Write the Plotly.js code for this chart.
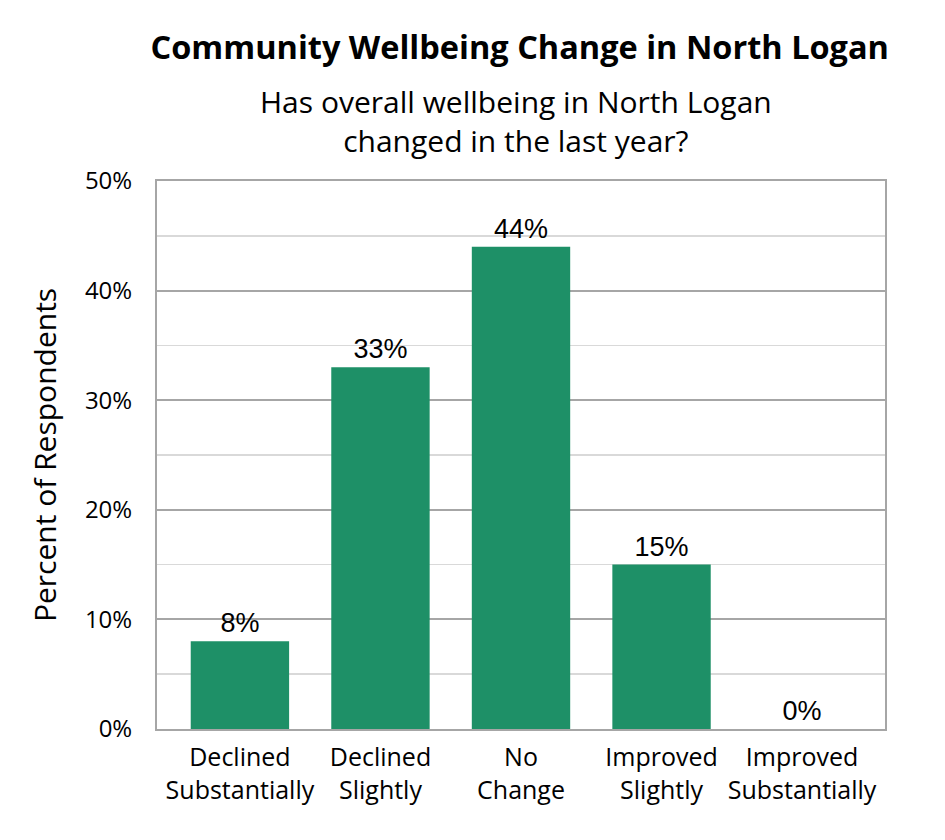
<!DOCTYPE html>
<html>
<head>
<meta charset="utf-8">
<script src="https://cdn.plot.ly/plotly-3.0.1.min.js"></script>
<style>html,body{margin:0;padding:0;background:#fff;}#chart{width:945px;height:840px;}</style>
</head>
<body>
<div id="chart"></div>
<script>
const categories = ["Declined<br>Substantially", "Declined<br>Slightly", "No<br>Change", "Improved<br>Slightly", "Improved<br>Substantially"];
const values = [8, 33, 44, 15, 0];
const valueLabels = ["8%", "33%", "44%", "15%", "0%"];
const yTickVals = [0, 10, 20, 30, 40, 50];
const yTickText = ["0%", "10%", "20%", "30%", "40%", "50%"];

const sans = "Open Sans, Lato, sans-serif";

const trace = {
  type: "bar",
  x: categories,
  y: values,
  text: valueLabels,
  textposition: "outside",
  cliponaxis: false,
  textfont: {family: "Liberation Sans, Arial, sans-serif", size: 27, color: "#000"},
  marker: {color: "#1e9067"},
  hoverinfo: "none"
};

const layout = {
  width: 945, height: 840,
  margin: {l: 157, r: 60, t: 181, b: 111},
  paper_bgcolor: "#fff", plot_bgcolor: "#fff",
  bargap: 0.30,
  showlegend: false,
  title: {
    text: "<b>Community Wellbeing Change in North Logan</b>",
    font: {family: sans, size: 32.5, color: "#000"},
    x: 0.55, xanchor: "center", y: 0.943, yanchor: "middle"
  },
  annotations: [{
    text: "Has overall wellbeing in North Logan<br>changed in the last year?",
    xref: "paper", yref: "paper", x: 0.493, y: 1.11, yanchor: "middle", xanchor: "center",
    showarrow: false,
    font: {family: sans, size: 30, color: "#000"}
  }],
  xaxis: {
    type: "category",
    range: [-0.59, 4.59],
    tickfont: {family: sans, size: 25, color: "#000"},
    showline: true, linecolor: "#a6a6a6", linewidth: 2, mirror: true,
    ticks: "outside", ticklen: 5, tickcolor: "rgba(0,0,0,0)", fixedrange: true
  },
  yaxis: {
    range: [0, 50],
    tickvals: yTickVals, ticktext: yTickText,
    tickfont: {family: sans, size: 24, color: "#000"},
    showgrid: true, gridcolor: "#a6a6a6", gridwidth: 2,
    minor: {dtick: 5, showgrid: true, gridcolor: "#d9d9d9", gridwidth: 1.5},
    showline: true, linecolor: "#a6a6a6", linewidth: 2, mirror: true,
    zeroline: false, ticks: "outside", ticklen: 18, tickcolor: "rgba(0,0,0,0)",
    title: {text: "Percent of Respondents", standoff: 19,
      font: {family: sans, size: 30, color: "#000"}},
    fixedrange: true
  }
};

Plotly.newPlot("chart", [trace], layout, {displayModeBar: false, staticPlot: true});
</script>
</body>
</html>
